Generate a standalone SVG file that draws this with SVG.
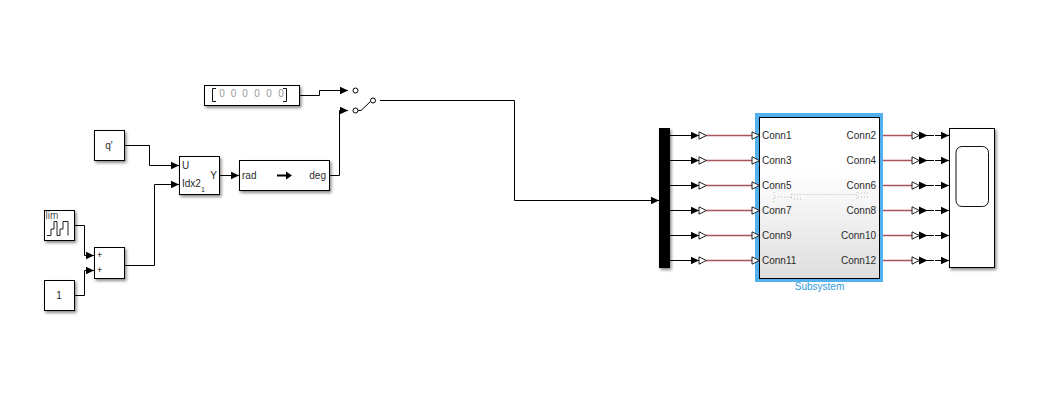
<svg xmlns="http://www.w3.org/2000/svg" xmlns:xlink="http://www.w3.org/1999/xlink" width="1051" height="407" viewBox="0 0 1051 407">
<style>
text{font-family:"Liberation Sans",Arial,sans-serif;font-size:10px;fill:#2a2a2a}
.b{fill:#fff;stroke:#000;stroke-width:1;filter:url(#sh)}
.w{fill:none;stroke:#000;stroke-width:1}
.a{marker-end:url(#ah)}
.p{fill:none;stroke:#a8545e;stroke-width:1}
.h{fill:none;stroke:#e7d3d6;stroke-width:3}
.o{fill:#fff;stroke:#000;stroke-width:1}
.g{fill:none;stroke:#222;stroke-width:1}
.d{fill:none;stroke:#bbb;stroke-width:1;stroke-dasharray:1 2}
.m{text-anchor:middle}
.e{text-anchor:end}
.z{fill:#999;font-size:10px;text-anchor:middle}
</style>
<defs>
<filter id="sh" x="-20%" y="-20%" width="150%" height="150%"><feDropShadow dx="1.5" dy="2" stdDeviation="1.5" flood-color="#000" flood-opacity=".45"/></filter>
<linearGradient id="gr" x1="0" y1="0" x2="0" y2="1"><stop offset="0" stop-color="#fff"/><stop offset=".33" stop-color="#fff"/><stop offset="1" stop-color="#dedede"/></linearGradient>
<marker id="ah" markerUnits="userSpaceOnUse" markerWidth="9" markerHeight="9" refX="8.500" refY="4.500" orient="auto"><path d="M0 0.500L8.500 4.500L0 8.500Z" fill="#000"/></marker>
<polygon id="hol" points="0,-3.700 7.300,0 0,3.700" fill="#fff" stroke="#222" stroke-width="1"/>
</defs>

<g id="connectors">
<path class="w a" d="M125 145.500H149.500V165.500H179"/>
<path class="w a" d="M125 265.500H154.500V184.500H179"/>
<path class="w a" d="M75 225.500H84.500V255.500H94"/>
<path class="w a" d="M75 295.500H84.500V270.500H94"/>
<path class="w a" d="M220 175.500H239"/>
<path class="w a" d="M300 95.500H319.500V90.500H348"/>
<path class="w a" d="M330 175.500H339.500V110.500H348"/>
<path class="w a" d="M380 100.500H514.500V200.500H659"/>
<g id="left-bus">
<path class="w a" d="M670 135.500H699"/><path class="w a" d="M670 160.500H699"/><path class="w a" d="M670 185.500H699"/><path class="w a" d="M670 210.500H699"/><path class="w a" d="M670 235.500H699"/><path class="w a" d="M670 260.500H699"/>
<path class="h" d="M706 135.500H753M706 160.500H753M706 185.500H753M706 210.500H753M706 235.500H753M706 260.500H753"/>
<path class="p" d="M706 135.500H753M706 160.500H753M706 185.500H753M706 210.500H753M706 235.500H753M706 260.500H753"/>
<use xlink:href="#hol" href="#hol" x="699" y="135.500"/><use xlink:href="#hol" href="#hol" x="699" y="160.500"/><use xlink:href="#hol" href="#hol" x="699" y="185.500"/><use xlink:href="#hol" href="#hol" x="699" y="210.500"/><use xlink:href="#hol" href="#hol" x="699" y="235.500"/><use xlink:href="#hol" href="#hol" x="699" y="260.500"/>
</g>
<g id="right-bus">
<path class="h" d="M879 135.500H912M879 160.500H912M879 185.500H912M879 210.500H912M879 235.500H912M879 260.500H912"/>
<path class="p" d="M879 135.500H912M879 160.500H912M879 185.500H912M879 210.500H912M879 235.500H912M879 260.500H912"/>
<use xlink:href="#hol" href="#hol" x="912" y="135.500"/><use xlink:href="#hol" href="#hol" x="912" y="160.500"/><use xlink:href="#hol" href="#hol" x="912" y="185.500"/><use xlink:href="#hol" href="#hol" x="912" y="210.500"/><use xlink:href="#hol" href="#hol" x="912" y="235.500"/><use xlink:href="#hol" href="#hol" x="912" y="260.500"/>
<path class="w a" d="M919 135.500H927.500"/><path class="w a" d="M919 160.500H927.500"/><path class="w a" d="M919 185.500H927.500"/><path class="w a" d="M919 210.500H927.500"/><path class="w a" d="M919 235.500H927.500"/><path class="w a" d="M919 260.500H927.500"/>
<path class="w" d="M927 135.500H934M927 160.500H934M927 185.500H934M927 210.500H934M927 235.500H934M927 260.500H934"/>
<path class="w a" d="M935 135.500H949"/><path class="w a" d="M935 160.500H949"/><path class="w a" d="M935 185.500H949"/><path class="w a" d="M935 210.500H949"/><path class="w a" d="M935 235.500H949"/><path class="w a" d="M935 260.500H949"/>
</g>
</g>

<g id="q-const"><rect class="b" x="94.500" y="130.500" width="30" height="30"/><text class="m" x="109" y="149">q'</text></g>
<g id="lim-stair"><rect class="b" x="44.500" y="210.500" width="30" height="30"/><text x="45.500" y="219" style="font-size:10px;fill:#555">lim</text>
<path class="g" d="M47 235.500H51V229H54V221.500H57V235.500H60V229H63V221.500H68V235.500"/></g>
<g id="one-const"><rect class="b" x="44.500" y="280.500" width="30" height="30"/><text class="m" x="59" y="299">1</text></g>
<g id="adder"><rect class="b" x="94.500" y="247.500" width="30" height="31"/><text x="97" y="258" style="font-size:9px;fill:#000">+</text><text x="97" y="273" style="font-size:9px;fill:#000">+</text></g>
<g id="selector"><rect class="b" x="179.500" y="156.500" width="40" height="38"/><text x="182" y="169">U</text><text x="182" y="187">Idx2</text><text x="201" y="192" style="font-size:7px">1</text><text class="e" x="217" y="179">Y</text></g>
<g id="rad2deg"><rect class="b" x="239.500" y="160.500" width="90" height="30"/><text x="242" y="179">rad</text><text class="e" x="326" y="179">deg</text>
<path d="M277 175.500H287" fill="none" stroke="#000" stroke-width="2"/><path d="M286 171.500L292 175.500L286 179.500Z" fill="#000"/></g>
<g id="constant"><rect class="b" x="204.500" y="85.500" width="95" height="20"/>
<path d="M216 88.500H212.500V101.500H216M283 88.500H286.500V101.500H283" fill="none" stroke="#111" stroke-width="1"/>
<text class="z" x="222" y="97">0</text><text class="z" x="233.500" y="97">0</text><text class="z" x="245" y="97">0</text><text class="z" x="257" y="97">0</text><text class="z" x="269" y="97">0</text><text class="z" x="281" y="97">0</text></g>
<g id="switch"><path class="w" d="M358 110.500H361L371 101"/><circle class="o" cx="355.500" cy="90.500" r="2.500"/><circle class="o" cx="355.500" cy="110.500" r="2.500"/><circle class="o" cx="373" cy="100.500" r="2.500"/></g>
<g id="mux"><rect x="659" y="128" width="11" height="140" fill="#000" style="filter:url(#sh)"/></g>
<g id="subsystem">
<rect x="755" y="113" width="128" height="169" fill="#55b0ee"/>
<rect x="759.500" y="117.500" width="120" height="161" fill="url(#gr)" stroke="#000"/>
<path class="d" d="M774 192V204M791.500 194V200M857 192V199M791.500 194.500H857M775 197H791M858 193H868M858 197H868M794 199H801"/>
<use xlink:href="#hol" href="#hol" x="752" y="135.500"/><use xlink:href="#hol" href="#hol" x="752" y="160.500"/><use xlink:href="#hol" href="#hol" x="752" y="185.500"/><use xlink:href="#hol" href="#hol" x="752" y="210.500"/><use xlink:href="#hol" href="#hol" x="752" y="235.500"/><use xlink:href="#hol" href="#hol" x="752" y="260.500"/>
<text x="762" y="139">Conn1</text><text x="762" y="164">Conn3</text><text x="762" y="189">Conn5</text><text x="762" y="214">Conn7</text><text x="762" y="239">Conn9</text><text x="762" y="264">Conn11</text>
<text class="e" x="876" y="139">Conn2</text><text class="e" x="876" y="164">Conn4</text><text class="e" x="876" y="189">Conn6</text><text class="e" x="876" y="214">Conn8</text><text class="e" x="876" y="239">Conn10</text><text class="e" x="876" y="264">Conn12</text>
<text class="m" x="819.500" y="290" style="font-size:10px;fill:#2f9be0">Subsystem</text>
</g>
<g id="scope"><rect class="b" x="949.500" y="128.500" width="45" height="139"/><rect x="956" y="146.500" width="32.500" height="60" rx="6" fill="#fff" stroke="#111"/></g>
</svg>
